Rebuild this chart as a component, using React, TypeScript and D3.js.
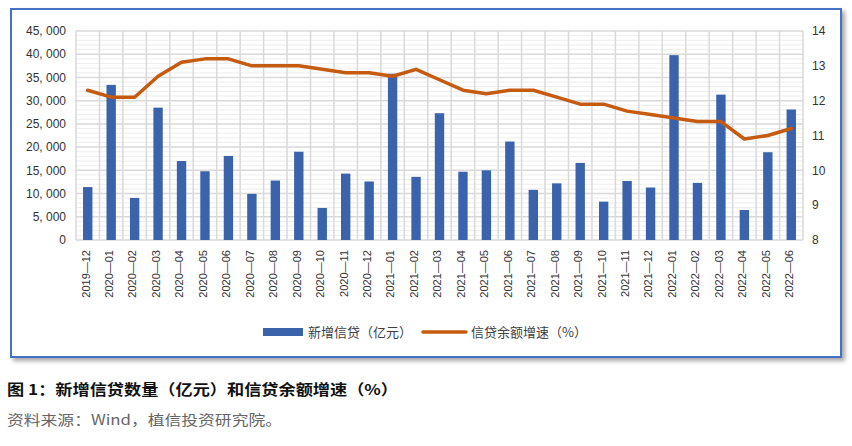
import React from "react";
import * as d3 from "d3";

const categories = [
  "2019—12","2020—01","2020—02","2020—03","2020—04","2020—05","2020—06","2020—07","2020—08","2020—09","2020—10","2020—11","2020—12",
  "2021—01","2021—02","2021—03","2021—04","2021—05","2021—06","2021—07","2021—08","2021—09","2021—10","2021—11","2021—12",
  "2022—01","2022—02","2022—03","2022—04","2022—05","2022—06",
];
const newLoans = [
  11400, 33400, 9057, 28500, 17000, 14800, 18100, 9927, 12800, 19000, 6898, 14300, 12600,
  35800, 13600, 27300, 14700, 15000, 21200, 10800, 12200, 16600, 8262, 12700, 11300,
  39800, 12300, 31300, 6454, 18900, 28100,
];
const loanGrowth = [
  12.3, 12.1, 12.1, 12.7, 13.1, 13.2, 13.2, 13.0, 13.0, 13.0, 12.9, 12.8, 12.8,
  12.7, 12.9, 12.6, 12.3, 12.2, 12.3, 12.3, 12.1, 11.9, 11.9, 11.7, 11.6,
  11.5, 11.4, 11.4, 10.9, 11.0, 11.2,
];
const leftTicks = [0, 5000, 10000, 15000, 20000, 25000, 30000, 35000, 40000, 45000];
const rightTicks = [8, 9, 10, 11, 12, 13, 14];
const legendLabels = ["新增信贷（亿元）", "信贷余额增速（%）"];
const captionTitle = "图 1：新增信贷数量（亿元）和信贷余额增速（%）";
const captionSource = "资料来源：Wind，植信投资研究院。";

const W = 852, H = 446;
const plot = { left: 76, right: 803, top: 31, bottom: 240 };

export default function App() {
  const x = d3.scaleBand<string>().domain(categories).range([plot.left, plot.right]).paddingInner(0.6).paddingOuter(0.3);
  const xb = d3.scaleBand<string>().domain(categories).range([plot.left, plot.right]);
  const yL = d3.scaleLinear().domain([0, 45000]).range([plot.bottom, plot.top]);
  const yR = d3.scaleLinear().domain([8, 14]).range([plot.bottom, plot.top]);
  const minorTicks = d3.range(0, 45001, 1000).filter((v) => v % 5000 !== 0);
  const fmt = (v: number) => d3.format(",")(v).replace(",", ", ");
  const line = d3.line<number>()
    .x((_, i) => (xb(categories[i]) as number) + xb.bandwidth() / 2)
    .y((d) => yR(d));
  const sans = "'Liberation Sans', Arial, sans-serif";
  const cjk = "'Noto Sans CJK SC', sans-serif";

  return (
    <div style={{ position: "absolute", left: 0, top: 0 }}>
      <svg width={W} height={H} style={{ display: "block", background: "#fff" }}>
        <defs>
          <filter id="sh" x="-5%" y="-5%" width="110%" height="115%">
            <feDropShadow dx="3" dy="3" stdDeviation="2" floodColor="#000" floodOpacity="0.35" />
          </filter>
        </defs>
        <rect x={11} y={9} width={830} height={348} fill="#fff" stroke="#4472C4" strokeWidth={2} filter="url(#sh)" />
        {/* minor grid */}
        {minorTicks.map((v) => (
          <line key={"m" + v} x1={plot.left} x2={plot.right} y1={yL(v)} y2={yL(v)} stroke="#eeeeee" strokeWidth={1} />
        ))}
        {/* major grid */}
        {leftTicks.map((v) => (
          <line key={"g" + v} x1={plot.left} x2={plot.right} y1={yL(v)} y2={yL(v)} stroke="#d9d9d9" strokeWidth={1.5} />
        ))}
        {categories.map((c) => (
          <line key={"v" + c} x1={xb(c)} x2={xb(c)} y1={plot.top} y2={plot.bottom} stroke="#d9d9d9" strokeWidth={1.5} />
        ))}
        <line x1={plot.right} x2={plot.right} y1={plot.top} y2={plot.bottom} stroke="#d9d9d9" strokeWidth={1.5} />
        {/* bars */}
        {newLoans.map((v, i) => (
          <rect key={"b" + i} x={x(categories[i])} y={yL(v)} width={x.bandwidth()} height={plot.bottom - yL(v)} fill="#3A63AC" />
        ))}
        {/* line */}
        <path d={line(loanGrowth) || ""} fill="none" stroke="#C55A11" strokeWidth={3.5} strokeLinejoin="round" strokeLinecap="round" />
        {/* left axis */}
        {leftTicks.map((v) => (
          <text key={"l" + v} x={66} y={yL(v)} dy="0.35em" textAnchor="end" fontFamily={sans} fontSize={12} fill="#333">
            {fmt(v)}
          </text>
        ))}
        {/* right axis */}
        {rightTicks.map((v) => (
          <text key={"r" + v} x={812} y={yR(v)} dy="0.35em" textAnchor="start" fontFamily={sans} fontSize={12} fill="#333">
            {v}
          </text>
        ))}
        {/* x labels */}
        {categories.map((c) => {
          const cx = (xb(c) as number) + xb.bandwidth() / 2 - 2;
          return (
            <text key={"x" + c} transform={`translate(${cx},250) rotate(-90)`} dy="0.35em" textAnchor="end" fontFamily={sans} fontSize={11} fill="#333">
              {c}
            </text>
          );
        })}
        {/* legend */}
        <rect x={263} y={328} width={40} height={8} fill="#3A63AC" />
        <text x={308} y={332} dy="0.36em" fontFamily={cjk} fontSize={13} fill="#404040">{legendLabels[0]}</text>
        <line x1={423} x2={466} y1={332} y2={332} stroke="#C55A11" strokeWidth={3.5} strokeLinecap="round" />
        <text x={471} y={332} dy="0.36em" fontFamily={cjk} fontSize={13} fill="#404040">{legendLabels[1]}</text>
        {/* caption */}
        <text x={7} y={390} dy="0.36em" fontFamily={cjk} fontSize={15} fontWeight="bold" fill="#111" textLength={391} lengthAdjust="spacingAndGlyphs">
          {captionTitle}
        </text>
        <text x={7} y={420} dy="0.36em" fontFamily={cjk} fontSize={14} fill="#666" textLength={275} lengthAdjust="spacingAndGlyphs">
          {captionSource}
        </text>
      </svg>
    </div>
  );
}
